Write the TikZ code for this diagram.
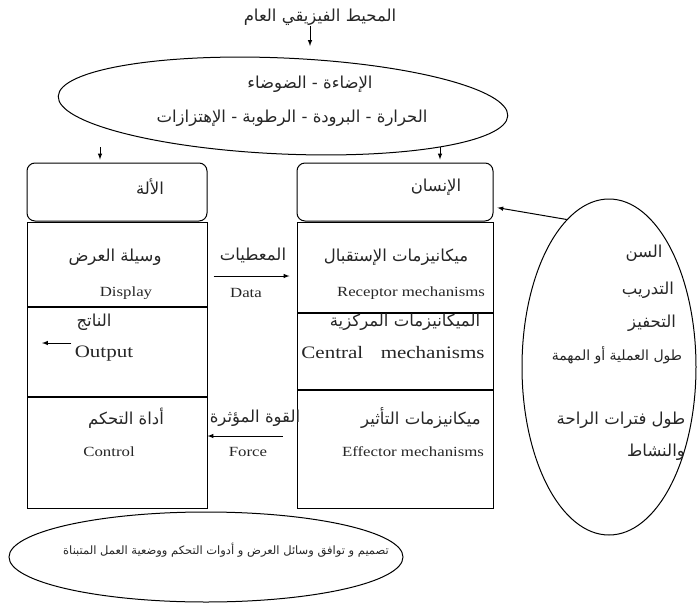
\documentclass[tikz,border=0pt]{standalone}
\usepackage{fontspec}
\setmainfont{Liberation Serif}
\newfontfamily\arabicfont[Script=Arabic]{DejaVu Sans}
\newfontfamily\widefont[FakeStretch=1.2]{Liberation Serif}
\TeXXeTstate=1
\usetikzlibrary{shapes, positioning}
\newcommand{\artext}[1]{\beginR #1\endR}

\begin{document}
\begin{tikzpicture}
  [
    x = 1pt, y = -1pt, line width = 1pt, >=latex,
    every node/.style = {inner sep=0pt, text=black!85},
    ar/.style = {font=\arabicfont\fontsize{16.5}{18}\selectfont},
    arsmall/.style = {font=\arabicfont\fontsize{11.5}{13}\selectfont},
    lat/.style = {font=\widefont\fontsize{14}{16}\selectfont},
    latbig/.style = {font=\widefont\fontsize{17.5}{20}\selectfont},
    hdr/.style = {draw, rounded corners=8pt, minimum height=58pt},
    cell/.style = {draw},
    blob/.style = {draw, ellipse}
  ]
  \useasboundingbox (0,0) rectangle (697,606);

  % environment
  \node[ar] (world) at (320,17) {\artext{المحيط الفيزيقي العام}};
  \node[blob, minimum width=450pt, minimum height=96pt, rotate=-2.5] (env) at (283,106) {};
  \node[ar] (envA) at (310,84)  {\artext{الإضاءة - الضوضاء}};
  \node[ar] (envB) at (292,118) {\artext{الحرارة - البرودة - الرطوبة - الإهتزازات}};

  % machine column
  \node[hdr, minimum width=180pt] (M0) at (117,192) {};
  \node[cell, minimum width=180pt, minimum height=84pt,  below=0pt of M0] (M1) {};
  \node[cell, minimum width=180pt, minimum height=89pt,  below=0pt of M1] (M2) {};
  \node[cell, minimum width=180pt, minimum height=111pt, below=0pt of M2] (M3) {};

  % human column
  \node[hdr, minimum width=196pt] (H0) at (395,192) {};
  \node[cell, minimum width=196pt, minimum height=90pt,  below=0pt of H0] (H1) {};
  \node[cell, minimum width=196pt, minimum height=76pt,  below=0pt of H1] (H2) {};
  \node[cell, minimum width=196pt, minimum height=118pt, below=0pt of H2] (H3) {};

  % factors and design
  \node[blob, minimum width=174pt, minimum height=336pt] (factors) at (609,367) {};
  \node[blob, minimum width=394pt, minimum height=90pt] (design) at (206,557) {};

  % texts of the machine
  \node[ar] (machine)  at (150,187) {\artext{الألة}};
  \node[ar] (displayA) at (115,257) {\artext{وسيلة العرض}};
  \node[lat] (displayE) at (126,293) {Display};
  \node[ar] (outputA)  at (94,322)  {\artext{الناتج}};
  \node[latbig] (outputE) at (104,354) {Output};
  \node[ar] (controlA) at (126,418) {\artext{أداة التحكم}};
  \node[lat] (controlE) at (109,452) {Control};

  % texts between the columns
  \node[ar] (dataA)  at (253,255) {\artext{المعطيات}};
  \node[lat] (dataE) at (246,293) {Data};
  \node[ar] (forceA) at (255,418) {\artext{القوة المؤثرة}};
  \node[lat] (forceE) at (248,452) {Force};

  % texts of the human
  \node[ar] (human)     at (436,187) {\artext{الإنسان}};
  \node[ar] (receptorA) at (396,257) {\artext{ميكانيزمات الإستقبال}};
  \node[lat] (receptorE) at (411,293) {Receptor mechanisms};
  \node[ar] (centralA)  at (405,322) {\artext{الميكانيزمات المركزية}};
  \node[latbig] (centralE) at (393,353) {Central\quad mechanisms};
  \node[ar] (effectorA) at (421,418) {\artext{ميكانيزمات التأثير}};
  \node[lat] (effectorE) at (413,452) {Effector mechanisms};

  % texts of the factors
  \node[ar] (age)      at (644,253) {\artext{السن}};
  \node[ar] (training) at (648,290) {\artext{التدريب}};
  \node[ar] (motive)   at (652,323) {\artext{التحفيز}};
  \node[ar, font=\arabicfont\fontsize{14}{16}\selectfont] (taskLen) at (617,355) {\artext{طول العملية أو المهمة}};
  \node[ar] (restLen)  at (621,420) {\artext{طول فترات الراحة}};
  \node[ar] (activity) at (656,452) {\artext{والنشاط}};

  \node[arsmall] (designT) at (226,550) {\artext{تصميم و توافق وسائل العرض و أدوات التحكم ووضعية العمل المتبناة}};

  % arrows
  \coordinate (envT) at (310,46);
  \coordinate (envL) at (100,147);
  \coordinate (envR) at (440,147);
  \coordinate (dataY) at (0,276);
  \coordinate (forceY) at (0,436);
  \coordinate (outTip) at (42,343);
  \draw[->] (world.south -| envT) -- (envT);
  \draw[->, shorten >=3pt] (envL) -- (M0.north -| envL);
  \draw[->, shorten >=3pt] (envR) -- (H0.north -| envR);
  \draw[->, shorten <=6pt, shorten >=7pt] (M1.east |- dataY) -- (H1.west |- dataY);
  \draw[->, shorten <=14pt] (H3.west |- forceY) -- (M3.east |- forceY);
  \draw[->, shorten <=3pt] (outputE.west |- outTip) -- (outTip);
  \draw[->, shorten >=4pt] (factors.106) -- ([yshift=-15pt]H0.east);
\end{tikzpicture}
\end{document}
